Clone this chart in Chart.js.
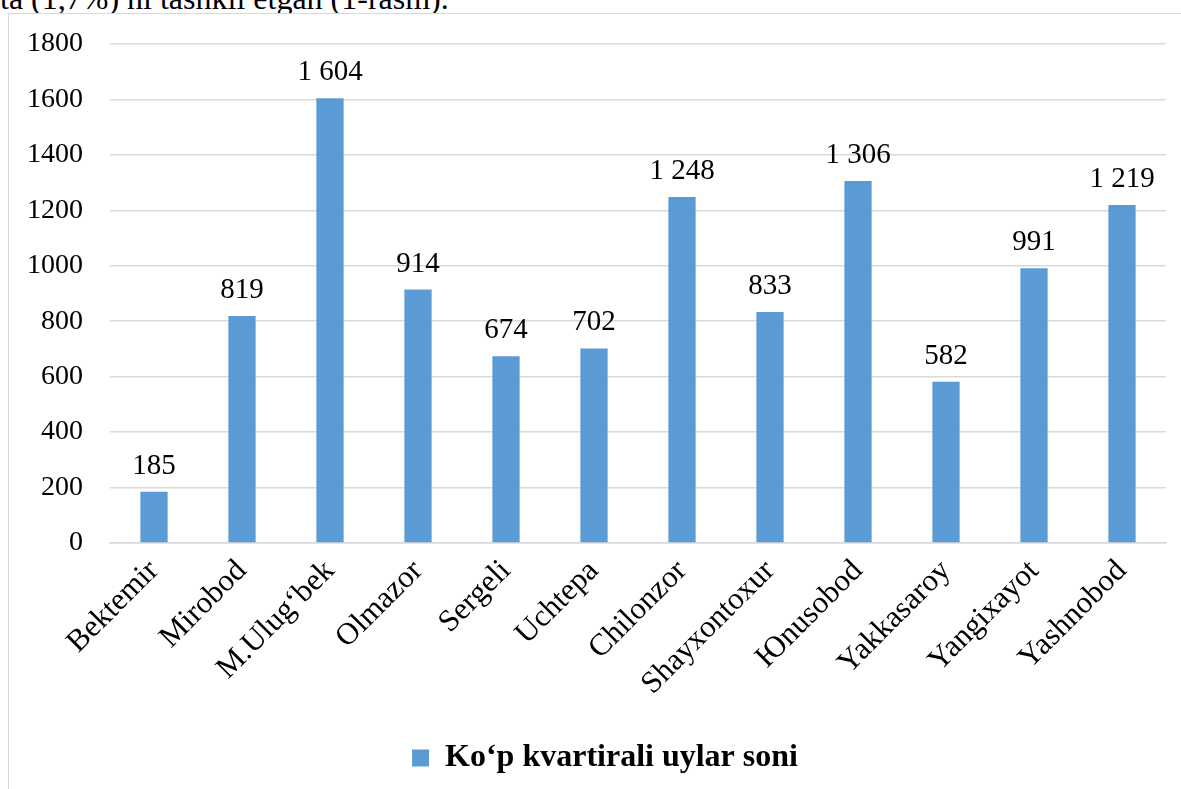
<!DOCTYPE html>
<html>
<head>
<meta charset="utf-8">
<script src="https://cdn.jsdelivr.net/npm/chart.js@4"></script>
<style>
  html, body { margin: 0; padding: 0; background: #fff; overflow: hidden; }
  body { width: 1181px; height: 789px; position: relative; }
  #lead {
    position: absolute; left: 0; top: -18px;
    font: 32px/32px "Liberation Serif", "Times New Roman", serif;
    color: #000; white-space: nowrap;
  }
  #frame {
    position: absolute; left: 8px; top: 13px;
    width: 1190px; height: 800px;
    border: 1px solid #d9d9d9; background: #fff;
  }
</style>
</head>
<body>
<div id="lead">ta (1,7%) ni tashkil etgan (1-rasm).</div>
<div id="frame"><canvas id="c" width="1190" height="800"></canvas></div>
<script>
// Districts of Tashkent and their number of multi-apartment buildings
const districts = ["Bektemir", "Mirobod", "M.Ulug\u2018bek", "Olmazor", "Sergeli", "Uchtepa",
  "Chilonzor", "Shayxontoxur", "\u042Enusobod", "Yakkasaroy", "Yangixayot", "Yashnobod"];
const buildings = [185, 819, 1604, 914, 674, 702, 1248, 833, 1306, 582, 991, 1219];
const yTicks = [0, 200, 400, 600, 800, 1000, 1200, 1400, 1600, 1800];
const seriesName = "Ko\u2018p kvartirali uylar soni";

const serif = "'Liberation Serif', 'Times New Roman', serif";
const barColor = "#5b9bd5";

// thousands with a space separator: 1604 -> "1 604"
const fmt = v => String(v).replace(/\B(?=(\d{3})+(?!\d))/g, " ");

// value labels above each bar
const valueLabels = {
  id: "valueLabels",
  afterDatasetsDraw(chart) {
    const ctx = chart.ctx;
    const meta = chart.getDatasetMeta(0);
    ctx.save();
    ctx.font = "29px " + serif;
    ctx.fillStyle = "#000";
    ctx.textAlign = "center";
    ctx.textBaseline = "alphabetic";
    meta.data.forEach((bar, i) => {
      ctx.fillText(fmt(buildings[i]), bar.x, bar.y - 18);
    });
    ctx.restore();
  }
};

// nudge the legend slightly to the right of the centred position
const legendNudge = {
  id: "legendNudge",
  afterLayout(chart) {
    if (chart.legend) {
      chart.legend.left += 8;
      chart.legend.right += 8;
    }
  }
};

new Chart(document.getElementById("c"), {
  type: "bar",
  data: {
    labels: districts,
    datasets: [{
      label: seriesName,
      data: buildings,
      backgroundColor: barColor,
      borderWidth: 0,
      categoryPercentage: 1,
      barPercentage: 0.31
    }]
  },
  options: {
    responsive: false,
    animation: false,
    layout: { padding: { left: 19, right: 33, top: 30, bottom: 30 } },
    plugins: {
      legend: {
        position: "bottom",
        labels: {
          font: { family: serif, size: 32, weight: "bold" },
          color: "#000",
          boxWidth: 17,
          boxHeight: 17,
          padding: 10
        }
      },
      tooltip: { enabled: false }
    },
    scales: {
      x: {
        grid: { display: false, drawTicks: false },
        border: { display: true, color: "#d9d9d9", width: 1.5 },
        ticks: {
          font: { family: serif, size: 31 },
          color: "#000",
          minRotation: 45,
          maxRotation: 45,
          padding: 10
        },
        afterFit(scale) {
          scale.height = 189;
          scale.paddingLeft = 0;
          scale.paddingRight = 0;
        }
      },
      y: {
        min: 0,
        max: 1800,
        afterBuildTicks(scale) { scale.ticks = yTicks.map(v => ({ value: v })); },
        grid: { color: "#d9d9d9", lineWidth: 1.5, drawTicks: false },
        border: { display: false },
        ticks: {
          font: { family: serif, size: 28 },
          color: "#000",
          padding: 27,
          callback: v => String(v)
        },
        afterFit(scale) {
          scale.width = 82;
          scale.paddingTop = 0;
          scale.paddingBottom = 0;
        }
      }
    }
  },
  plugins: [valueLabels, legendNudge]
});
</script>
</body>
</html>
